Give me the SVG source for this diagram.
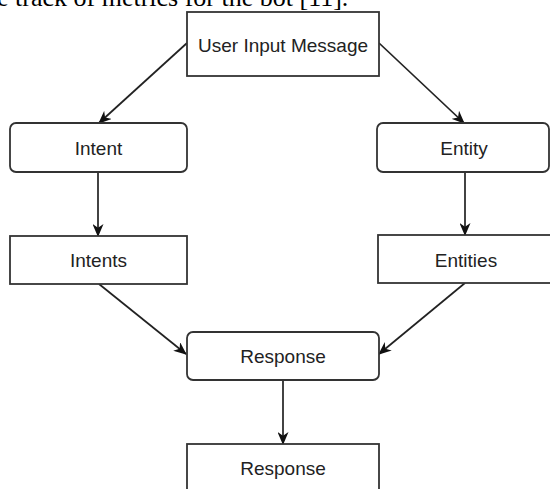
<svg xmlns="http://www.w3.org/2000/svg" width="550" height="489" viewBox="0 0 550 489">
<style>
.box{fill:#fff;stroke:#333;stroke-width:1.8}
.lbl{font-family:"Liberation Sans",Arial,sans-serif;font-size:19px;fill:#222;text-anchor:middle}
.edge{fill:none;stroke:#222;stroke-width:1.7}
.top{font-family:"Liberation Serif","Times New Roman",serif;font-size:26px;fill:#000}
</style>
<defs>
<marker id="arr" viewBox="0 0 13 11" refX="12" refY="5.5" markerWidth="13" markerHeight="11" markerUnits="userSpaceOnUse" orient="auto">
<path d="M0,0 L13,5.5 L0,11 L3.8,5.5 Z" fill="#111"/>
</marker>
</defs>
<rect width="550" height="489" fill="#fff"/>
<text class="top" x="-3" y="6">e track of metrics for the bot [11].</text>
<g id="edges">
<line class="edge" x1="187" y1="43" x2="99" y2="123" marker-end="url(#arr)"/>
<line class="edge" x1="379" y1="43" x2="464" y2="123" marker-end="url(#arr)"/>
<line class="edge" x1="98" y1="172" x2="98" y2="236" marker-end="url(#arr)"/>
<line class="edge" x1="465" y1="172" x2="465" y2="235" marker-end="url(#arr)"/>
<line class="edge" x1="99" y1="284" x2="186" y2="354" marker-end="url(#arr)"/>
<line class="edge" x1="465" y1="283" x2="379" y2="354" marker-end="url(#arr)"/>
<line class="edge" x1="283" y1="380" x2="283" y2="444" marker-end="url(#arr)"/>
</g>
<g id="user-input">
<rect class="box" x="187" y="12" width="192" height="64"/>
<text class="lbl" x="283" y="52">User Input Message</text>
</g>
<g id="intent">
<rect class="box" x="10" y="123" width="177" height="49" rx="6"/>
<text class="lbl" x="98.5" y="155">Intent</text>
</g>
<g id="entity">
<rect class="box" x="377" y="123" width="172" height="49" rx="6"/>
<text class="lbl" x="464" y="155">Entity</text>
</g>
<g id="intents">
<rect class="box" x="10" y="236" width="177" height="48"/>
<text class="lbl" x="98.5" y="267">Intents</text>
</g>
<g id="entities">
<rect class="box" x="378" y="235" width="180" height="48"/>
<text class="lbl" x="466" y="267">Entities</text>
</g>
<g id="response">
<rect class="box" x="187" y="332" width="192" height="48" rx="6"/>
<text class="lbl" x="283" y="363">Response</text>
</g>
<g id="response-out">
<rect class="box" x="187" y="444" width="192" height="60"/>
<text class="lbl" x="283" y="475">Response</text>
</g>
</svg>
